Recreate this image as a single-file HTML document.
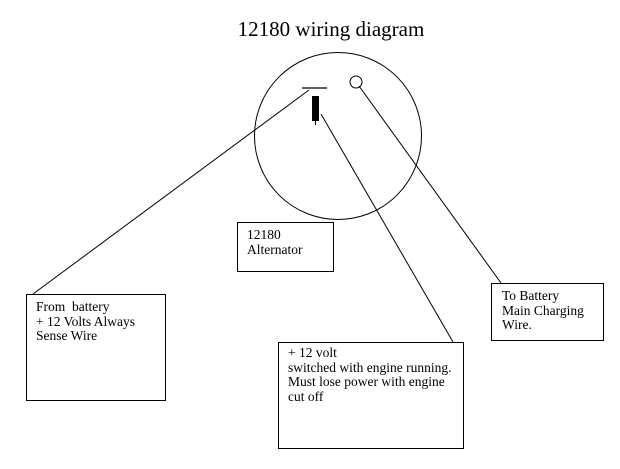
<!DOCTYPE html>
<html><head><style>
body{margin:0;background:#fff;width:620px;height:469px;overflow:hidden;position:relative;font-family:"Liberation Serif",serif;}
.t{position:absolute;font-size:13.5px;line-height:14.7px;color:#000;white-space:nowrap;}
.b{position:absolute;border:1px solid #000;background:#fff;box-sizing:border-box;}
</style></head><body>
<svg width="620" height="469" style="position:absolute;left:0;top:0">
<text x="331" y="36" font-family="Liberation Serif" font-size="21" text-anchor="middle">12180 wiring diagram</text>
<circle cx="338" cy="136" r="83.5" fill="none" stroke="#000"/>
<line x1="302" y1="88" x2="327" y2="88" stroke="#000" stroke-width="1.3"/>
<rect x="312" y="96" width="7" height="25" fill="#000"/>
<line x1="315.5" y1="121" x2="315.5" y2="125" stroke="#000"/>
<circle cx="356" cy="82" r="6" fill="#fff" stroke="#000"/>
<line x1="309" y1="90" x2="33" y2="294" stroke="#000"/>
<line x1="321" y1="114" x2="453" y2="342" stroke="#000"/>
<line x1="359" y1="86" x2="501" y2="283" stroke="#000"/>
</svg>
<div class="b" style="left:26px;top:294px;width:140px;height:107px"></div>
<div class="t" style="left:36px;top:300px">From&nbsp; battery<br>+ 12 Volts Always<br>Sense Wire</div>
<div class="b" style="left:237px;top:222px;width:97px;height:50px"></div>
<div class="t" style="left:247px;top:228px">12180<br>Alternator</div>
<div class="b" style="left:491px;top:283px;width:113px;height:58px"></div>
<div class="t" style="left:502px;top:289px">To Battery<br>Main Charging<br>Wire.</div>
<div class="b" style="left:278px;top:342px;width:186px;height:107px"></div>
<div class="t" style="left:288px;top:346px">+ 12 volt<br>switched with engine running.<br>Must lose power with engine<br>cut off</div>
</body></html>
